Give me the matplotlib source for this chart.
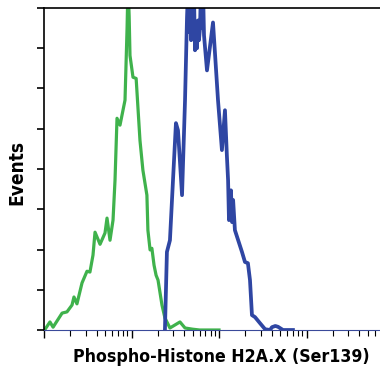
import numpy as np
import matplotlib.pyplot as plt
from matplotlib import font_manager
from matplotlib.font_manager import FontProperties
from matplotlib.ticker import LogLocator, NullFormatter, MultipleLocator

# fluorescence intensity (log axis) and event counts
green_x = [1.03, 1.17, 1.27, 1.34, 1.61, 1.83, 2.09, 2.20, 2.38, 2.72, 3.10,
           3.35, 3.63, 3.83, 4.37, 4.98, 5.25, 5.68, 6.15, 6.48, 6.70, 6.83,
           7.39, 8.43, 8.90, 9.12, 9.40, 9.61, 10.4, 11.3, 12.5, 13.5, 15.0,
           15.4, 16.3, 17.1, 18.1, 19.1, 20.1, 22.3, 24.1, 27.5, 35.8, 40.9,
           50.0, 60.0, 100.0]
green_y = [0.2, 2.0, 0.7, 1.5, 4.2, 4.5, 6.2, 8.2, 6.5, 11.7, 14.6,
           14.4, 18.6, 24.3, 21.3, 24.1, 27.8, 22.3, 27.3, 37.2, 47.0, 52.6,
           50.9, 57.1, 75.0, 86.0, 78.0, 68.2, 62.8, 62.5, 47.1, 39.7, 33.5,
           24.8, 19.9, 20.3, 16.1, 13.6, 12.4, 6.2, 3.0, 0.5, 2.0, 0.5,
           0.2, 0.0, 0.0]

blue_x = [24.1, 25.4, 27.5, 29.8, 32.2, 34.0, 37.8, 40.9, 43.1, 44.5, 45.8,
          46.6, 48.0, 49.3, 50.5, 52.0, 53.2, 54.5, 56.0, 57.5, 59.0, 60.7,
          62.3, 63.9, 65.5, 67.4, 72.9, 85.4, 97.4, 108, 117, 123, 127,
          130, 137, 141, 145, 152, 183, 198, 214, 226, 238, 258, 294, 336,
          383, 403, 440, 472, 539, 700]
blue_y = [0.0, 19.4, 22.3, 37.2, 51.4, 49.6, 33.5, 57.1, 77.7, 86.0, 74.0,
          80.0, 72.0, 86.0, 74.4, 81.0, 69.5, 74.0, 70.0, 76.9, 72.0, 75.0,
          86.0, 75.0, 86.0, 73.2, 64.5, 76.4, 57.1, 44.7, 54.6, 43.4, 37.2,
          27.3, 34.7, 26.8, 32.3, 24.8, 19.4, 16.9, 16.6, 12.4, 3.7, 3.2,
          1.7, 0.2, 0.0, 0.7, 1.0, 0.8, 0.0, 0.0]


def _heavy(w):
    if isinstance(w, str):
        return w.lower() in ('bold', 'heavy', 'black', 'extra bold', 'semibold', 'demibold')
    return w >= 600


# a bold condensed face file if one is installed, else plain bold
cond = None
for f in font_manager.fontManager.ttflist:
    s = str(f.stretch).lower()
    n = f.name.lower()
    if _heavy(f.weight) and ('condensed' in s or 'narrow' in n or 'condensed' in n) \
            and 'mono' not in n and 'oblique' not in str(f.style).lower() \
            and 'italic' not in str(f.style).lower():
        cond = f
        break

if cond is not None:
    fp = FontProperties(fname=cond.fname)
else:
    fp = FontProperties(family=['Liberation Sans', 'DejaVu Sans'], weight='bold')

fig = plt.figure(figsize=(3.8, 3.68), dpi=100)
ax = fig.add_axes([44 / 380, 1 - 330 / 368, 1 - 44 / 380, 322 / 368])

ax.plot(green_x, green_y, color='#3fb24c', lw=2.3, solid_joinstyle='round')
ax.plot(blue_x, blue_y, color='#2f46a3', lw=2.7, solid_joinstyle='round')

ax.set_xscale('log')
ax.set_xlim(1, 10 ** 3.84)
ax.set_ylim(0, 80)
ax.xaxis.set_major_locator(LogLocator(base=10, numticks=10))
ax.xaxis.set_minor_locator(LogLocator(base=10, subs=np.arange(2, 10), numticks=10))
ax.xaxis.set_major_formatter(NullFormatter())
ax.xaxis.set_minor_formatter(NullFormatter())
ax.yaxis.set_major_locator(MultipleLocator(10))
ax.set_yticklabels([])

ax.spines['right'].set_visible(False)
ax.spines['top'].set_linewidth(1.2)
ax.spines['left'].set_linewidth(1.2)
ax.spines['bottom'].set_color('#3a4a9a')
ax.spines['bottom'].set_linewidth(0.8)
ax.tick_params(axis='y', which='major', length=5, width=1.2, direction='out')
ax.tick_params(axis='x', which='major', length=6, width=1.0, direction='out')
ax.tick_params(axis='x', which='minor', length=4, width=0.8, direction='out')

fp.set_size(14)
xl = fig.text(221 / 380, 1 - 357 / 368, 'Phospho-Histone H2A.X (Ser139)', ha='center', va='center',
              fontproperties=fp)
yl = fig.text(17 / 380, 1 - 172 / 368, 'Events', ha='center', va='center', rotation=90,
              fontproperties=fp.copy())

# fit the label widths to the reference (297 px and 65 px)
r = fig.canvas.get_renderer()
w = xl.get_window_extent(r).width
xl.set_fontsize(min(16, 14 * 297 / w))
h = yl.get_window_extent(r).height
yl.set_fontsize(min(16, 14 * 65 / h))

fig.savefig('out.png', dpi=100)
